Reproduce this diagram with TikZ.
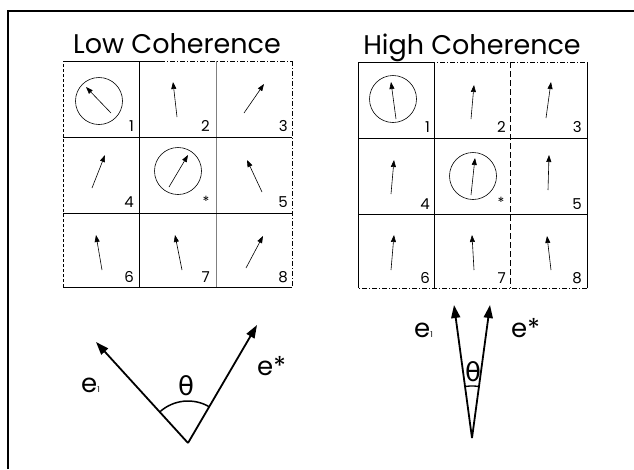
\documentclass[tikz,border=0pt]{standalone}
\usepackage{fontspec}
\setmainfont{Poppins}
\newfontfamily\thetafont{DejaVu Sans}
\usetikzlibrary{arrows.meta,angles}
\tikzset{
  frameline/.style={line width=1.1pt},
  gridline/.style={line width=0.7pt},
  dashgrid/.style={line width=0.7pt, dash pattern=on 5pt off 2pt on 1pt off 2pt},
  cellarrow/.style={-{Triangle[length=7pt,width=5pt]}, line width=0.6pt},
  vecarrow/.style={-{Triangle[length=13pt,width=9pt]}, line width=1.8pt},
  ring/.style={circle, draw, line width=0.6pt, minimum size=47pt, inner sep=0pt},
  title/.style={font=\fontsize{27}{30}\selectfont, anchor=base, inner sep=0pt},
  numlabel/.style={font=\fontsize{15}{16}\selectfont, anchor=base east, inner sep=0pt},
  starlabel/.style={font=\fontsize{14}{15}\selectfont, inner sep=0pt},
  vlabel/.style={font=\fontsize{26}{27}\selectfont, anchor=base west, inner sep=0pt},
  thlabel/.style={font=\thetafont\fontsize{26}{27}\selectfont, inner sep=0pt},
}
\begin{document}
\begin{tikzpicture}[x=1pt,y=-1pt]
\useasboundingbox (0,0) rectangle (634,469);
% outer frame (partial)
\coordinate (fb) at (8,469);
\coordinate (fc) at (8,11);
\coordinate (fr) at (634,11);
\draw[frameline] (fb) -- (fc) -- (fr);

% titles
\node[title] (tlow) at (177,53) {Low Coherence};
\node[title] (thigh) at (472,54) {High Coherence};

% ---------- left grid ----------
\draw[gridline] (63,61) -- (160,61);
\draw[dashgrid] (160,61) -- (292,61);
\draw[dashgrid] (292,61) -- (292,287);
\draw[gridline] (292,287) -- (63,287);
\draw[gridline, densely dashed] (63,287) -- (63,61);
\draw[gridline] (139,61) -- (139,287);
\draw[gridline, gray] (216,61) -- (216,287);
\draw[gridline] (63,137) -- (292,137);
\draw[gridline] (63,213) -- (292,213);

\node[ring] (Lc1) at (99,101) {};
\node[ring] (Lc5) at (178,171) {};
\foreach \n/\tx/\ty/\hx/\hy in {
  L1/111/113/86/87, L2/177/117/173/82, L3/244/113/264/84,
  L4/92/188/105/155, L9/169/187/188/155, L5/262/192/247/160,
  L6/102/270/96/235, L7/182/270/175/235, L8/246/268/263/236}{
  \coordinate (\n-t) at (\tx,\ty);
  \coordinate (\n-h) at (\hx,\hy);
  \draw[cellarrow] (\n-t) -- (\n-h);
}
\node[numlabel] (Ln1) at (134,131) {1};
\node[numlabel] (Ln2) at (210,131) {2};
\node[numlabel] (Ln3) at (288,131) {3};
\node[numlabel] (Ln4) at (134,207) {4};
\node[starlabel] (Lns) at (206,201) {*};
\node[numlabel] (Ln5) at (288,207) {5};
\node[numlabel] (Ln6) at (134,282) {6};
\node[numlabel] (Ln7) at (210,282) {7};
\node[numlabel] (Ln8) at (288,282) {8};

% ---------- right grid ----------
\draw[gridline] (358,62) -- (430,62);
\draw[dashgrid] (430,62) -- (587,62);
\draw[gridline] (587,62) -- (587,288);
\draw[dashgrid] (587,288) -- (358,288);
\draw[gridline] (358,288) -- (358,62);
\draw[gridline] (434,62) -- (434,288);
\draw[gridline, dash pattern=on 6pt off 3pt] (510,62) -- (510,288);
\draw[gridline] (358,138) -- (587,138);
\draw[gridline] (358,214) -- (587,214);

\node[ring] (Rc1) at (393,99) {};
\node[ring] (Rc5) at (473,176) {};
\foreach \n/\tx/\ty/\hx/\hy in {
  R1/396/119/391/82, R2/471/119/474/85, R3/546/118/551/82,
  R4/391/194/394/160, R9/471/195/475/158, R5/548/190/549/155,
  R6/391/270/394/235, R7/474/270/472/235, R8/551/270/547/236}{
  \coordinate (\n-t) at (\tx,\ty);
  \coordinate (\n-h) at (\hx,\hy);
  \draw[cellarrow] (\n-t) -- (\n-h);
}
\node[numlabel] (Rn1) at (430,132) {1};
\node[numlabel] (Rn2) at (506,132) {2};
\node[numlabel] (Rn3) at (582,132) {3};
\node[numlabel] (Rn4) at (430,209) {4};
\node[starlabel] (Rns) at (501,202) {*};
\node[numlabel] (Rn5) at (582,209) {5};
\node[numlabel] (Rn6) at (430,283) {6};
\node[numlabel] (Rn7) at (506,283) {7};
\node[numlabel] (Rn8) at (582,283) {8};

% ---------- left vector diagram ----------
\coordinate (LO) at (188,443);
\coordinate (LL) at (96,342);
\coordinate (LR) at (257,325);
\draw[vecarrow] (LO) -- (LL);
\draw[vecarrow] (LO) -- (LR);
\pic[draw, line width=1.5pt, angle radius=42pt] {angle=LR--LO--LL};
\node[thlabel] (Lth) at (186,386) {θ};
\node[vlabel] (Le1) at (81,392) {e\raisebox{0pt}{\fontsize{8}{8}\selectfont 1}};
\node[vlabel] (Les) at (257,375) {e*};

% ---------- right vector diagram ----------
\coordinate (RO) at (472,438);
\coordinate (RL) at (454,305);
\coordinate (RR) at (490,305);
\draw[vecarrow] (RO) -- (RL);
\draw[vecarrow] (RO) -- (RR);
\pic[draw, line width=1.3pt, angle radius=52pt] {angle=RR--RO--RL};
\node[thlabel] (Rth) at (473,372) {θ};
\node[vlabel] (Re1) at (414,337) {e\raisebox{0pt}{\fontsize{8}{8}\selectfont 1}};
\node[vlabel] (Res) at (511,337) {e*};
\end{tikzpicture}
\end{document}
